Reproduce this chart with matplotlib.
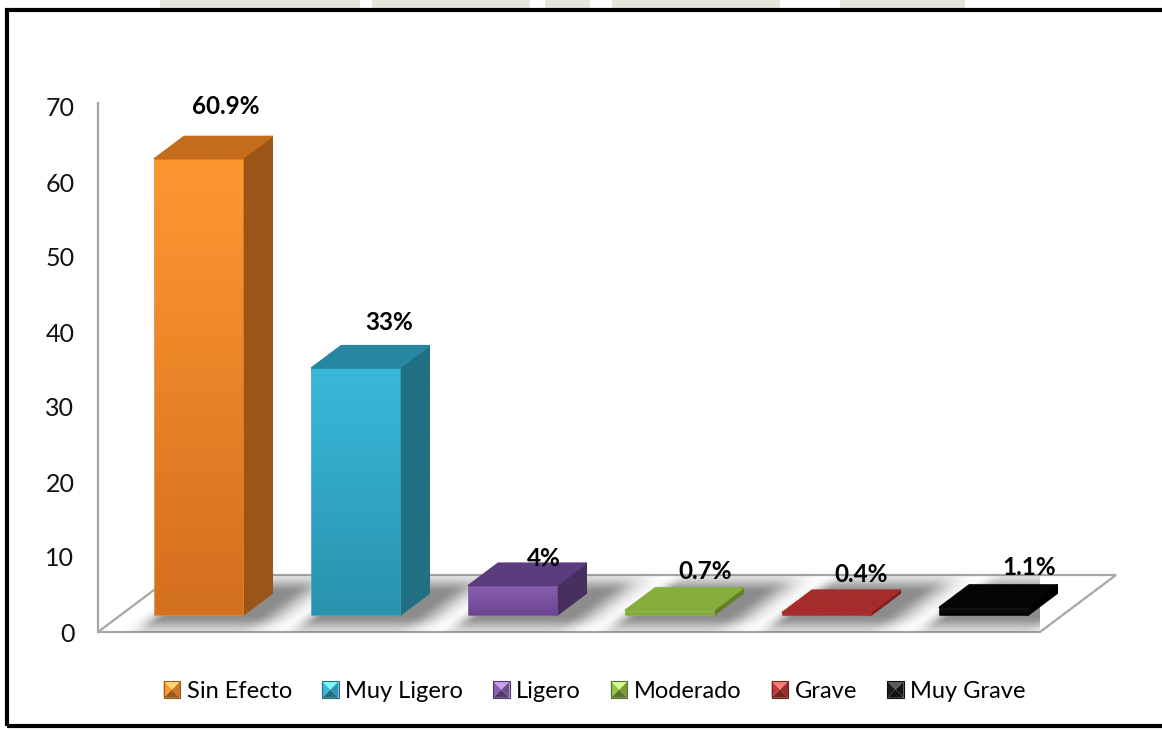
import numpy as np
import matplotlib.pyplot as plt
from matplotlib.patches import Polygon, Rectangle
from matplotlib.colors import to_rgb
from matplotlib.legend_handler import HandlerBase

categorias = ["Sin Efecto", "Muy Ligero", "Ligero", "Moderado", "Grave", "Muy Grave"]
porcentajes = [60.9, 33, 4, 0.7, 0.4, 1.1]
etiquetas = ["60.9%", "33%", "4%", "0.7%", "0.4%", "1.1%"]
y_ticks = [0, 10, 20, 30, 40, 50, 60, 70]

# front top, front bottom, side, top face
colores = [
    ("#ff9731", "#d3701f", "#9a5517", "#c46c1c"),
    ("#39b9dc", "#2993ad", "#216f82", "#2787a1"),
    ("#8a5fb2", "#6c4590", "#47305f", "#5b3d7e"),
    ("#98c04c", "#7fa53a", "#627f2b", "#86ae3e"),
    ("#c03a37", "#a02a28", "#7a1f1e", "#a52c2a"),
    ("#1a1a1a", "#000000", "#000000", "#050505"),
]

# nudge of each value label from the bar centre, in pixels
nudge = [(12, 69), (19, 62), (16, 44), (21, 55), (20, 54), (31, 56)]

plt.rcParams['font.family'] = ['Lato', 'DejaVu Sans']

W, H = 1162, 730
fig = plt.figure(figsize=(W / 100, H / 100), dpi=100)
ax = fig.add_axes([98 / W, (H - 632) / H, 942 / W, 528.75 / H])
ax.set_xlim(-0.5, 5.5)
ax.set_ylim(0, 70.5)

px_x = 942 / 6          # pixels per category
px_y = 7.5              # pixels per unit
ddx = 76 / px_x         # floor depth, in data units
ddy = 57 / px_y
f0, f1 = 0.29, 0.68     # bar depth span as fraction of floor depth
bw = 88 / px_x

n = len(categorias)


def recortar(im, patch):
    im.set_clip_on(True)
    im.set_clip_box(None)
    im.set_clip_path(patch)


# floor
piso = Polygon([(-0.5, 0), (5.5, 0), (5.5 + ddx, ddy), (-0.5 + ddx, ddy)],
               closed=True, facecolor='white', edgecolor='#a6a6a6', lw=1.6,
               clip_on=False, zorder=1)
ax.add_patch(piso)

# soft shadows on the floor
gx = np.linspace(-0.5, 5.5 + ddx, 900)
gy = np.linspace(0, ddy, 120)
GX, GY = np.meshgrid(gx, gy)
t = GY / ddy
sombra = np.zeros_like(GX)
for i in range(n):
    xb = (GX - t * ddx - i) * px_x - 14
    dxp = np.maximum(np.abs(xb) - bw * px_x / 2, 0)
    dxp = np.where(xb > 0, dxp / 2.2, dxp / 1.2)
    dyp = np.maximum(np.maximum(f0 - t, t - f1), 0) * 57 / 1.2
    d = np.hypot(dxp, dyp)
    sombra = np.maximum(sombra, 0.6 * np.exp(-(d / 12) ** 2))
img = np.zeros(GX.shape + (4,))
img[..., :3] = 0.25
img[..., 3] = sombra
im = ax.imshow(img, extent=(gx[0], gx[-1], 0, ddy), origin='lower',
               aspect='auto', zorder=2, interpolation='bilinear')
recortar(im, piso)


def cara(verts, c1, c2, z):
    a, b = np.array(to_rgb(c1)), np.array(to_rgb(c2))
    base = Polygon(verts, closed=True, facecolor=(a + b) / 2,
                   edgecolor=(a + b) / 2, lw=1.2, joinstyle='round',
                   clip_on=False, zorder=z)
    ax.add_patch(base)
    p = Polygon(verts, closed=True, facecolor='none', edgecolor='none',
                clip_on=False, zorder=z)
    ax.add_patch(p)
    vs = np.array(verts)
    g = np.linspace(0, 1, 64)[:, None]
    grad = (b + (a - b) * g)[:, None, :]
    im = ax.imshow(grad, extent=(vs[:, 0].min(), vs[:, 0].max(),
                                 vs[:, 1].min(), vs[:, 1].max()),
                   origin='lower', aspect='auto', zorder=z,
                   interpolation='bilinear')
    recortar(im, p)


for i, (v, col) in enumerate(zip(porcentajes, colores)):
    ft, fb, sd, tp = col
    xl = i - bw / 2 + f0 * ddx
    xr = i + bw / 2 + f0 * ddx
    v0 = f0 * ddy
    vt = v + f0 * ddy
    bdx = (f1 - f0) * ddx
    bdy = (f1 - f0) * ddy
    z = 3 + i * 0.1
    cara([(xr, v0), (xr + bdx, v0 + bdy), (xr + bdx, vt + bdy), (xr, vt)],
         sd, sd, z)
    cara([(xl, v0), (xr, v0), (xr, vt), (xl, vt)], ft, fb, z + 0.01)
    cara([(xl, vt), (xr, vt), (xr + bdx, vt + bdy), (xl + bdx, vt + bdy)],
         tp, tp, z + 0.02)

    xm = i + (f0 + f1) / 2 * ddx
    ax.annotate(etiquetas[i], xy=(xm, v),
                xytext=(nudge[i][0] * 0.72, nudge[i][1] * 0.72),
                textcoords='offset points', ha='center', va='center',
                fontsize=17.5, fontweight='bold', color='black',
                annotation_clip=False, zorder=10)

ax.set_yticks(y_ticks)
ax.set_xticks([])
ax.tick_params(axis='y', length=0, pad=17, labelsize=18, labelcolor='#111111')
for s in ['top', 'right', 'bottom']:
    ax.spines[s].set_visible(False)
ax.spines['left'].set_color('#a6a6a6')
ax.spines['left'].set_linewidth(1.6)
ax.spines['left'].set_zorder(1)
ax.patch.set_visible(False)


class Cuadro(HandlerBase):
    def create_artists(self, legend, orig, xd, yd, w, h, fontsize, trans):
        s = h * 1.05
        x0, y0 = -xd + (w - s) / 2, -yd + (h - s) / 2
        c = np.array(to_rgb(orig.get_facecolor()))
        claro = np.clip(c + 0.25, 0, 1)
        oscuro = c * 0.6
        cx, cy = x0 + s / 2, y0 + s / 2
        pts = [(x0, y0), (x0 + s, y0), (x0 + s, y0 + s), (x0, y0 + s)]
        tonos = [oscuro, c * 0.8, claro, c]
        out = []
        for k in range(4):
            tri = Polygon([pts[k], pts[(k + 1) % 4], (cx, cy)], closed=True,
                          facecolor=tonos[k], edgecolor='none', transform=trans)
            out.append(tri)
        out.append(Rectangle((x0, y0), s, s, facecolor='none',
                             edgecolor=oscuro, lw=0.8, transform=trans))
        return out


handles = [Rectangle((0, 0), 1, 1, facecolor=c[0]) for c in colores]
fig.legend(handles, categorias, loc='center', bbox_to_anchor=(0.512, 0.053),
           ncol=6, frameon=False, fontsize=17, handlelength=0.65,
           handleheight=0.65, handletextpad=0.3, columnspacing=1.3,
           handler_map={Rectangle: Cuadro()})

# outer frame and faint strip above it
for x0, x1 in [(160, 360), (372, 530), (545, 590), (612, 780), (840, 965)]:
    fig.patches.append(Rectangle((x0 / W, (H - 8) / H), (x1 - x0) / W, 8 / H,
                                 transform=fig.transFigure, facecolor='#e6e5dc',
                                 edgecolor='none', zorder=0))
fig.patches.append(Rectangle((7 / W, 4 / H), 1.2, (H - 14) / H,
                             transform=fig.transFigure, facecolor='none',
                             edgecolor='black', lw=3, zorder=20))

fig.savefig('out.png', dpi=100)
